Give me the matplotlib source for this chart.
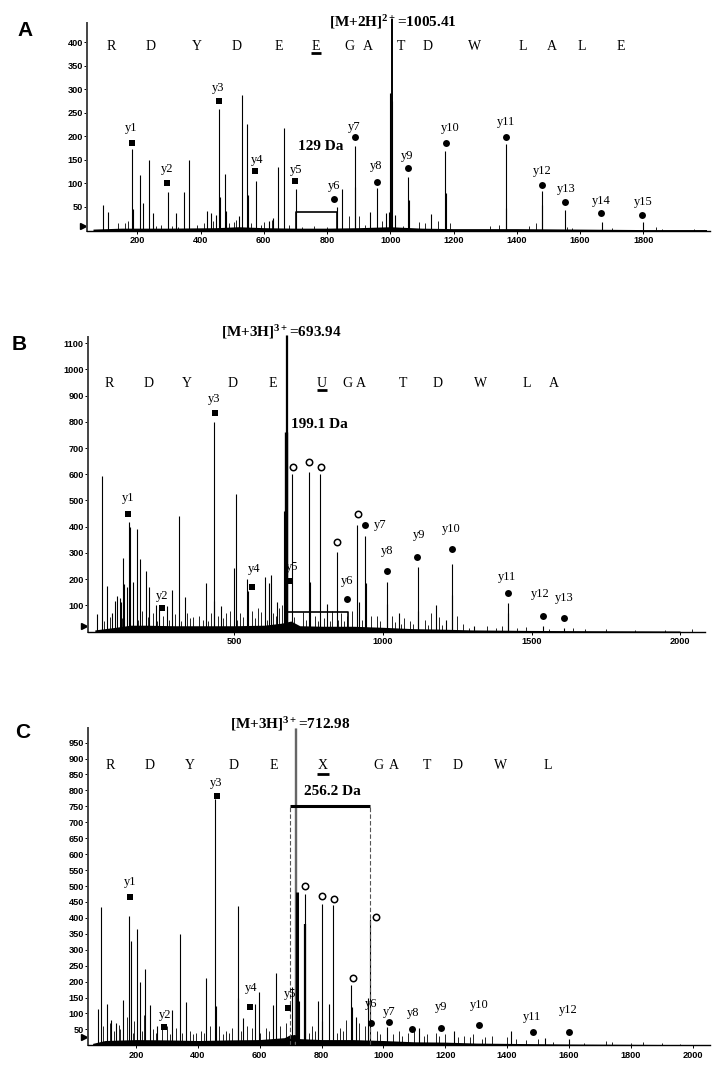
import matplotlib
matplotlib.use("Agg")
import matplotlib.pyplot as plt
from matplotlib.transforms import blended_transform_factory

SERIF = "Liberation Serif"
SANS = "Liberation Sans"
plt.rcParams["font.family"] = [SANS, "DejaVu Sans"]
plt.rcParams["mathtext.fontset"] = "custom"
plt.rcParams["mathtext.rm"] = "Liberation Serif:bold"
plt.rcParams["mathtext.it"] = "Liberation Serif:bold"
plt.rcParams["mathtext.bf"] = "Liberation Serif:bold"

# ======================= Panel A data =======================
A_peak_mz = [91, 109, 184, 188, 208, 219, 236, 251, 298, 321, 347, 365, 421, 432, 450, 460, 461,
             476, 479, 521, 531, 548, 549, 576, 616, 630, 644, 663, 702, 831, 846, 887, 888, 937,
             958, 985, 995, 1000, 1004, 1016, 1057, 1058, 1130, 1174, 1175, 1365, 1366, 1479,
             1480, 1553, 1668, 1800]
A_peak_int = [55, 40, 174, 45, 119, 58, 150, 38, 81, 37, 82, 150, 42, 38, 32, 259, 72,
              121, 42, 30, 287, 226, 76, 106, 21, 26, 135, 218, 89, 50, 89, 179, 92, 40,
              91, 38, 40, 293, 276, 33, 113, 64, 36, 168, 80, 183, 47, 83,
              55, 43, 18, 18]
A_noise_mz = [140, 160, 170, 260, 275, 310, 330, 390, 410, 440, 490, 505, 512, 560, 590, 600,
              625, 680, 720, 760, 800, 870, 900, 920, 975, 1040, 1090, 1110, 1150, 1190, 1315,
              1345, 1440, 1460, 1560, 1575, 1700, 1840, 1860, 1960]
A_noise_int = [15, 17, 20, 10, 12, 10, 8, 12, 15, 20, 15, 18, 22, 15, 12, 18,
               22, 12, 8, 10, 8, 30, 30, 12, 20, 10, 18, 15, 20, 15, 10,
               12, 10, 15, 8, 6, 5, 8, 4, 3]
A_grass_mz = [60, 150, 300, 450, 520, 600, 700, 800, 900, 1000, 1100, 1200, 1400, 1600, 1800, 2000]
A_grass_int = [3, 5, 5, 6, 8, 6, 5, 5, 6, 8, 5, 4, 4, 3, 2, 2]
A_precursor_mz = [1005.4]
A_precursor_int = [449]
A_ion_labels = ["y1", "y2", "y3", "y4", "y5", "y6", "y7", "y8", "y9", "y10", "y11", "y12",
                "y13", "y14", "y15"]
A_ion_kind = ["s", "s", "s", "s", "s", "o", "o", "o", "o", "o", "o", "o", "o", "o", "o"]
A_ion_mz = [182, 295, 457, 571, 700, 823, 888, 958, 1055, 1176, 1365, 1479, 1553, 1666, 1796]
A_ion_int = [186, 100, 276, 126, 106, 66, 198, 104, 133, 186, 199, 97, 60, 38, 32]
A_lab_mz = [182, 295, 457, 580, 703, 821, 885, 956, 1052, 1190, 1366, 1480, 1555, 1667, 1799]
A_lab_int = [217, 130, 303, 150, 129, 95, 221, 137, 159, 217, 230, 127, 88, 62, 60]
A_seq = ["R", "D", "Y", "D", "E", "E", "G", "A", "T", "D", "W", "L", "A", "L", "E"]
A_seq_mz = [119, 243, 388, 515, 649, 765, 871, 929, 1035, 1118, 1266, 1420, 1510, 1605, 1728]
A_xticks = [200, 400, 600, 800, 1000, 1200, 1400, 1600, 1800]
A_yticks = [50, 100, 150, 200, 250, 300, 350, 400]

# ======================= Panel B data =======================
B_peak_mz = [38, 54, 70, 88, 97, 105, 114, 118, 125, 129, 137, 144, 150, 160, 171, 182, 201,
             214, 235, 247, 274, 289, 314, 332, 404, 431, 432, 456, 499, 505, 541, 547, 602,
             615, 623, 643, 666, 695, 752, 755, 789, 811, 846, 913, 920, 939, 943, 1013,
             1014, 1054, 1118, 1119, 1178, 1213, 1233, 1234, 1305, 1421, 1422, 1538, 1610]
B_peak_int = [66, 595, 172, 72, 117, 137, 129, 114, 282, 180, 170, 417, 400, 190, 390, 277, 232,
              170, 100, 85, 99, 157, 441, 132, 184, 800, 115, 98, 244, 526, 200, 156, 207,
              184, 216, 114, 458, 600, 610, 190, 600, 105, 305, 407, 111, 365, 184, 188,
              105, 72, 245, 80, 100, 44, 258, 140, 21, 108, 70, 22, 15]
B_noise_mz = [60, 80, 160, 190, 225, 260, 300, 340, 360, 380, 420, 445, 470, 485, 520, 560,
              580, 590, 630, 650, 660, 700, 730, 770, 830, 860, 880, 895, 960, 980, 1030,
              1070, 1090, 1140, 1160, 1190, 1250, 1270, 1350, 1380, 1400, 1450, 1480, 1560,
              1640, 1680, 1750, 1850, 1950, 2040,
              120, 175, 210, 240, 280, 320, 350, 395, 410, 460, 510, 530, 570, 610, 640,
              740, 780, 800, 820, 850, 870, 930, 990, 1040, 1060, 1100, 1150, 1200, 1290]
B_noise_int = [40, 55, 60, 80, 70, 60, 65, 70, 55, 60, 70, 60, 70, 80, 70, 80,
               90, 75, 70, 90, 100, 55, 75, 60, 80, 70, 60, 80, 60, 60, 60,
               50, 40, 45, 70, 55, 60, 30, 20, 15, 22, 15, 18, 10,
               12, 10, 8, 6, 5, 8,
               50, 45, 55, 40, 45, 40, 50, 45, 40, 50, 45, 55, 50, 45, 60,
               45, 40, 50, 40, 45, 40, 45, 40, 35, 30, 30, 25, 25, 15]
B_grass_mz = [30, 100, 150, 200, 300, 400, 500, 600, 660, 690, 720, 800, 900, 1000, 1100,
              1200, 1300, 1400, 1500, 1700, 2000]
B_grass_int = [6, 16, 24, 24, 22, 22, 22, 24, 32, 40, 22, 20, 20, 16, 11, 9, 6, 5, 4, 3, 2]
B_thick_mz = [672]
B_thick_int = [763]
B_precursor_mz = [673, 676.5]
B_precursor_int = [1132, 1132]
B_ion_labels = ["y1", "y2", "y3", "y4", "y5", "", "", "", "", "", "y6", "y7", "y8", "y9",
                "y10", "y11", "y12", "y13"]
B_ion_kind = ["s", "s", "s", "s", "s", "c", "c", "c", "c", "c", "o", "o", "o", "o", "o", "o",
              "o", "o"]
B_ion_mz = [143, 256, 433, 560, 687, 698, 752, 793, 846, 915, 879, 941, 1014, 1116, 1231,
            1422, 1538, 1610]
B_ion_int = [450, 91, 835, 171, 194, 629, 647, 629, 340, 447, 123, 405, 231, 286, 314, 148,
             61, 51]
B_lab_mz = [143, 258, 433, 565, 693, 0, 0, 0, 0, 0, 879, 989, 1014, 1120, 1230, 1419, 1531,
            1610]
B_lab_int = [508, 137, 887, 240, 245, 0, 0, 0, 0, 0, 194, 407, 307, 368, 391, 209, 143, 127]
B_seq = ["R", "D", "Y", "D", "E", "U", "G", "A", "T", "D", "W", "L", "A"]
B_seq_mz = [78, 210, 340, 494, 629, 795, 882, 927, 1068, 1184, 1329, 1485, 1575]
B_xticks = [500, 1000, 1500, 2000]
B_yticks = [100, 200, 300, 400, 500, 600, 700, 800, 900, 1000, 1100]

# ======================= Panel C data =======================
C_peak_mz = [76, 88, 105, 120, 135, 159, 178, 184, 203, 213, 230, 244, 268, 316, 343, 361,
             428, 457, 458, 529, 530, 545, 586, 598, 642, 654, 703, 728, 745, 790, 801, 802,
             825, 838, 896, 897, 912, 950, 958, 1011, 1115, 1229, 1412, 1524, 1600]
C_peak_int = [115, 433, 130, 80, 70, 142, 407, 328, 365, 200, 240, 128, 60, 111, 349, 135,
              210, 772, 124, 436, 150, 85, 130, 168, 125, 228, 184, 140, 474, 140, 445, 75,
              130, 440, 188, 120, 90, 150, 395, 56, 53, 46, 45, 22, 19]
C_noise_mz = [95, 115, 145, 170, 195, 225, 255, 285, 300, 330, 375, 395, 410, 440, 470, 490,
              510, 560, 575, 620, 665, 685, 770, 860, 880, 920, 940, 980, 1050, 1080, 1100,
              1140, 1170, 1200, 1260, 1290, 1330, 1350, 1400, 1430, 1460, 1500, 1550, 1650,
              1720, 1740, 1800, 1840, 1900, 1960,
              130, 150, 190, 220, 265, 310, 350, 385, 420, 480, 500, 540, 600, 630, 760,
              780, 850, 870, 990, 1030, 1060, 1130, 1180, 1240, 1280, 1320]
C_noise_int = [60, 70, 65, 90, 75, 95, 50, 55, 60, 55, 45, 40, 45, 60, 60, 45,
               55, 60, 55, 55, 60, 70, 60, 55, 80, 70, 60, 45, 45, 40, 50,
               35, 40, 35, 30, 35, 25, 30, 25, 20, 18, 20, 10, 8,
               12, 10, 8, 10, 6, 4,
               45, 50, 40, 45, 40, 35, 40, 35, 40, 35, 40, 45, 40, 45, 40,
               45, 40, 45, 35, 35, 30, 30, 30, 25, 25, 20]
C_grass_mz = [60, 100, 200, 300, 400, 500, 600, 680, 700, 730, 800, 900, 1000, 1100, 1200,
              1300, 1400, 1600, 1800, 2000]
C_grass_int = [6, 15, 18, 17, 15, 17, 18, 24, 34, 21, 18, 18, 15, 11, 10, 7, 6, 4, 3, 2]
C_thick_mz = [721, 748]
C_thick_int = [480, 380]
C_precursor_mz = [713.5, 719]
C_precursor_int = [997, 997]
C_ion_labels = ["y1", "y2", "y3", "y4", "y5", "", "", "", "", "", "", "y6", "y7", "y8",
                "y9", "y10", "y11", "y12"]
C_ion_kind = ["s", "s", "s", "s", "s", "o", "c", "c", "c", "c", "c", "o", "o", "o", "o",
              "o", "o", "o"]
C_ion_mz = [181, 292, 462, 570, 692, 710, 748, 803, 840, 902, 976, 959, 1018, 1092, 1187,
            1309, 1485, 1600]
C_ion_int = [464, 56, 781, 121, 116, 22, 500, 468, 458, 212, 404, 69, 74, 50, 53, 64, 43, 43]
C_lab_mz = [181, 294, 459, 573, 699, 0, 0, 0, 0, 0, 0, 959, 1018, 1096, 1188, 1311, 1482,
            1597]
C_lab_int = [514, 95, 822, 179, 160, 0, 0, 0, 0, 0, 0, 129, 105, 100, 119, 127, 90, 111]
C_seq = ["R", "D", "Y", "D", "E", "X", "G", "A", "T", "D", "W", "L"]
C_seq_mz = [116, 245, 374, 516, 646, 805, 983, 1034, 1140, 1240, 1380, 1530]
C_xticks = [200, 400, 600, 800, 1000, 1200, 1400, 1600, 1800, 2000]
C_yticks = [50, 100, 150, 200, 250, 300, 350, 400, 450, 500, 550, 600, 650, 700, 750, 800,
            850, 900, 950]

# ======================= drawing =======================
W, H = 725, 1071
fig = plt.figure(figsize=(W / 100, H / 100), dpi=100)


def px_rect(x0, x1, ytop, ybot):
    return [x0 / W, 1 - ybot / H, (x1 - x0) / W, (ybot - ytop) / H]


def base_axes(rect, xlim, ylim, xticks, yticks, tri_x, tri_y):
    ax = fig.add_axes(rect)
    ax.set_xlim(*xlim)
    ax.set_ylim(*ylim)
    for s in ("top", "right"):
        ax.spines[s].set_visible(False)
    ax.spines["left"].set_linewidth(1.4)
    ax.spines["left"].set_color("#444444")
    ax.spines["bottom"].set_linewidth(1.0)
    ax.spines["bottom"].set_color("black")
    ax.set_xticks(xticks)
    ax.set_yticks(yticks)
    ax.tick_params(axis="y", length=2, width=0.7, pad=1.2, labelsize=6.6)
    ax.tick_params(axis="x", length=2, width=0.7, pad=2.2, labelsize=6.6)
    for lab in ax.get_xticklabels() + ax.get_yticklabels():
        lab.set_fontweight("bold")
        lab.set_family(SANS)
    tr = blended_transform_factory(ax.transAxes, ax.transData)
    ax.plot([tri_x], [tri_y], marker=">", ms=4, color="black", transform=tr, clip_on=False)
    return ax


def draw_spectrum(ax, peak_mz, peak_int, noise_mz, noise_int, grass_mz, grass_int):
    ax.fill_between(grass_mz, 0, grass_int, color="black", lw=0)
    ax.vlines(noise_mz, 0, noise_int, color="black", lw=0.6)
    ax.vlines(peak_mz, 0, peak_int, color="black", lw=0.8, clip_on=False)


def draw_ions(ax, labels, kinds, mz, inten, lab_mz, lab_int):
    for lab, k, x, y, lx, ly in zip(labels, kinds, mz, inten, lab_mz, lab_int):
        if k == "s":
            ax.plot(x, y, marker="s", ms=4.6, color="black", mew=0, clip_on=False)
        elif k == "o":
            ax.plot(x, y, marker="o", ms=5.0, color="black", mew=0, clip_on=False)
        else:
            ax.plot(x, y, marker="o", ms=4.6, mfc="white", mec="black", mew=1.1,
                    clip_on=False)
        if lab:
            ax.text(lx, ly, lab, family=SERIF, fontsize=9, ha="center", va="center")


def draw_seq(ax, letters, mz, y, ul_idx, ul_y, ul_half):
    for L, x in zip(letters, mz):
        ax.text(x, y, L, family=SERIF, fontsize=10, ha="center", va="center")
    ax.plot([mz[ul_idx] - ul_half, mz[ul_idx] + ul_half], [ul_y, ul_y], color="black", lw=2.0,
            solid_capstyle="butt")


# ---------------- Panel A ----------------
axA = base_axes(px_rect(87.3, 710, 22.7, 230.5), (42, 2011), (0, 441.6),
                A_xticks, A_yticks, -0.007, 10)
draw_spectrum(axA, A_peak_mz, A_peak_int, A_noise_mz, A_noise_int, A_grass_mz, A_grass_int)
axA.vlines(A_precursor_mz, 0, A_precursor_int, color="black", lw=1.4, clip_on=False)
draw_ions(axA, A_ion_labels, A_ion_kind, A_ion_mz, A_ion_int, A_lab_mz, A_lab_int)
draw_seq(axA, A_seq, A_seq_mz, 392, 5, 377, 17)
axA.plot([702, 702, 831, 831], [0, 39, 39, 0], color="black", lw=1.2)
axA.text(781, 179, "129 Da", family=SERIF, weight="bold", fontsize=11, ha="center",
         va="center")
axA.text(806, 444, r"[M+2H]$^{2+}$=1005.41", family=SERIF, weight="bold", fontsize=11,
         ha="left", va="center")
fig.text(25 / W, 1 - 30 / H, "A", family=SANS, weight="bold", fontsize=15, ha="center",
         va="center")

# ---------------- Panel B ----------------
axB = base_axes(px_rect(88.3, 705, 336.7, 631.5), (8, 2084), (0, 1125),
                B_xticks, B_yticks, -0.007, 22)
draw_spectrum(axB, B_peak_mz, B_peak_int, B_noise_mz, B_noise_int, B_grass_mz, B_grass_int)
axB.vlines(B_thick_mz, 0, B_thick_int, color="black", lw=2.4)
axB.vlines(B_precursor_mz, 0, B_precursor_int, color="black", lw=0.9, clip_on=False)
axB.plot([674, 881, 881], [76, 76, 0], color="black", lw=1.2)
draw_ions(axB, B_ion_labels, B_ion_kind, B_ion_mz, B_ion_int, B_lab_mz, B_lab_int)
draw_seq(axB, B_seq, B_seq_mz, 947, 5, 921, 18)
axB.text(690, 791, "199.1 Da", family=SERIF, weight="bold", fontsize=11, ha="left",
         va="center")
axB.text(455, 1144, r"[M+3H]$^{3+}$=693.94", family=SERIF, weight="bold", fontsize=11,
         ha="left", va="center")
fig.text(19 / W, 1 - 345 / H, "B", family=SANS, weight="bold", fontsize=15, ha="center",
         va="center")

# ---------------- Panel C ----------------
axC = base_axes(px_rect(88.3, 710, 728.3, 1045.3), (46, 2056), (0, 995),
                C_xticks, C_yticks, -0.007, 27)
draw_spectrum(axC, C_peak_mz, C_peak_int, C_noise_mz, C_noise_int, C_grass_mz, C_grass_int)
axC.vlines(C_precursor_mz, 0, C_precursor_int, color="#666666", lw=1.0, clip_on=False)
axC.vlines(C_thick_mz, 0, C_thick_int, color="black", lw=[2.2, 1.6])
axC.plot([699, 956], [751, 751], color="black", lw=2.2, solid_capstyle="butt")
axC.vlines([699, 956], 0, 751, color="#555555", lw=0.8, linestyles=(0, (4, 2)))
draw_ions(axC, C_ion_labels, C_ion_kind, C_ion_mz, C_ion_int, C_lab_mz, C_lab_int)
draw_seq(axC, C_seq, C_seq_mz, 877, 5, 851, 18)
axC.text(835, 796, "256.2 Da", family=SERIF, weight="bold", fontsize=11, ha="center",
         va="center")
axC.text(504, 1008, r"[M+3H]$^{3+}$=712.98", family=SERIF, weight="bold", fontsize=11,
         ha="left", va="center")
fig.text(23 / W, 1 - 733 / H, "C", family=SANS, weight="bold", fontsize=15, ha="center",
         va="center")

fig.savefig("out.png", dpi=100)
